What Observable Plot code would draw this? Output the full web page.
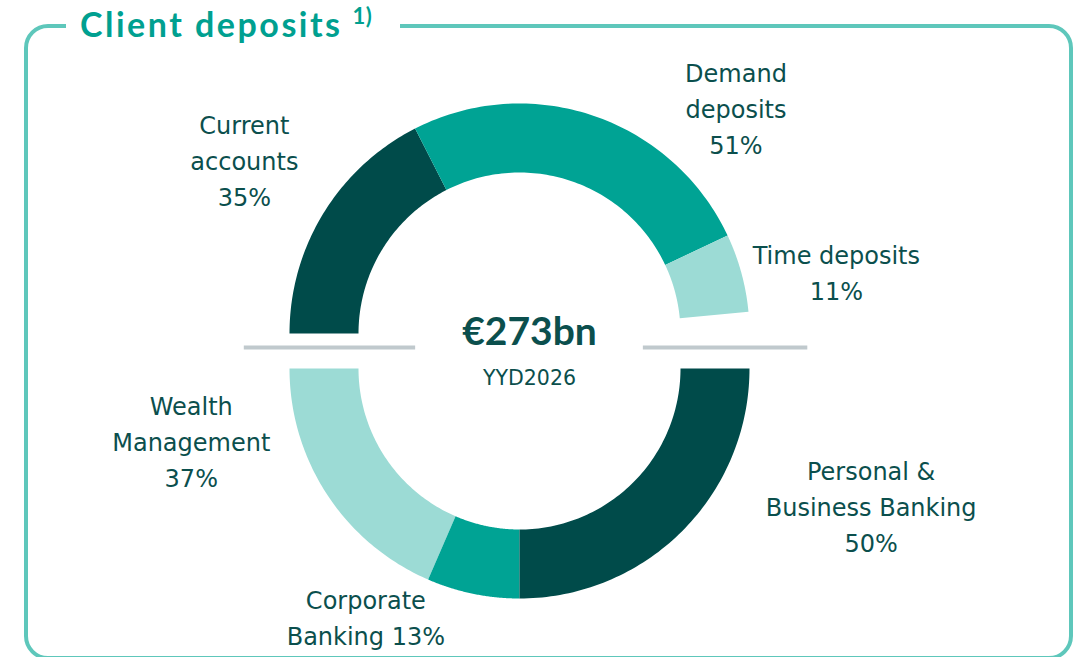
<!DOCTYPE html>
<html>
<head>
<meta charset="utf-8">
<script src="https://cdn.jsdelivr.net/npm/d3@7"></script>
<script src="https://cdn.jsdelivr.net/npm/@observablehq/plot@0.6"></script>
<style>
  html, body { margin: 0; padding: 0; background: #fff; }
  #wrap { position: relative; width: 1078px; height: 657px; overflow: hidden; font-family: Lato, "Open Sans", sans-serif; }
  #frame { position: absolute; left: 24px; top: 24px; width: 1049px; height: 636px; box-sizing: border-box;
           border: 4px solid #5ec7bb; border-radius: 24px; }
  #title { position: absolute; left: 66px; top: -8px; background: #fff; padding: 0 28px 0 14px;
           color: #00a090; font-weight: 700; font-size: 34px; letter-spacing: 2.5px; line-height: 50px; white-space: nowrap; }
  #title sup { font-size: 22px; font-weight: 700; letter-spacing: 0.5px; position: relative; top: -1px; margin-left: 10px; }
  #chart { position: absolute; left: 0; top: 0; }
</style>
</head>
<body>
<div id="wrap">
  <div id="chart"></div>
  <div id="frame"></div>
  <div id="title">Client deposits<sup>1)</sup></div>
</div>
<script>
// ---- data ----
const topCategories = ["Current accounts", "Demand deposits", "Time deposits"];
const topShares = [35, 51, 11];
const topLabels = ["Current\naccounts\n35%", "Demand\ndeposits\n51%", "Time deposits\n11%"];

const bottomCategories = ["Wealth Management", "Corporate Banking", "Personal & Business Banking"];
const bottomShares = [37, 13, 50];
const bottomLabels = ["Wealth\nManagement\n37%", "Corporate\nBanking 13%", "Personal &\nBusiness Banking\n50%"];

const totalLabel = "€273bn";
const periodLabel = "YYD2026";

// ---- layout / style ----
const W = 1078, H = 657;
const cxPx = 519, cyPx = 350.5, Rpx = 230;
const halfGap = 17.5 / Rpx;       // vertical offset of each half from the midline
const innerRatio = 0.70;
const colors = {
  "Current accounts": "#004b4a", "Demand deposits": "#00a394", "Time deposits": "#9cdbd5",
  "Wealth Management": "#9cdbd5", "Corporate Banking": "#00a394", "Personal & Business Banking": "#004b4a"
};
const nudges = {
  "Current accounts": [-79, -55], "Demand deposits": [142, -9], "Time deposits": [95, -2],
  "Wealth Management": [-136, -55], "Corporate Banking": [-107, 22], "Personal & Business Banking": [189, -27]
};
const textColor = "#0b4f4d";
const labelFont = "'DejaVu Sans', Verdana, sans-serif";

// build arc polygons from shares (each half spans 180 degrees)
function buildHalf(cats, shares, labels, dir, yOff) {
  const polys = [], labs = [];
  let cum = 0;
  cats.forEach((c, i) => {
    const a0 = Math.PI - dir * (cum / 100) * Math.PI;
    cum += shares[i];
    const a1 = Math.PI - dir * (cum / 100) * Math.PI;
    const n = 80;
    for (let k = 0; k <= n; k++) {
      const a = a0 + (a1 - a0) * k / n;
      polys.push({key: c, x: Math.cos(a), y: Math.sin(a) + yOff});
    }
    for (let k = n; k >= 0; k--) {
      const a = a0 + (a1 - a0) * k / n;
      polys.push({key: c, x: innerRatio * Math.cos(a), y: innerRatio * Math.sin(a) + yOff});
    }
    const am = (a0 + a1) / 2;
    labs.push({key: c, text: labels[i], x: Math.cos(am), y: Math.sin(am) + yOff});
  });
  return {polys, labs};
}
const topHalf = buildHalf(topCategories, topShares, topLabels, 1, halfGap);
const bottomHalf = buildHalf(bottomCategories, bottomShares, bottomLabels, -1, -halfGap);
const arcs = topHalf.polys.concat(bottomHalf.polys);
const labs = topHalf.labs.concat(bottomHalf.labs);

const xDomain = [(0 - cxPx) / Rpx, (W - cxPx) / Rpx];
const yDomain = [(cyPx - H) / Rpx, cyPx / Rpx];
const centerX = 10 / Rpx;

const allCats = topCategories.concat(bottomCategories);

const labelMarks = labs.map(d => Plot.text([d], {
  x: "x", y: "y", text: "text",
  dx: nudges[d.key][0], dy: nudges[d.key][1],
  fill: textColor, fontSize: 24, fontFamily: labelFont, lineHeight: 1.5, textAnchor: "middle"
}));

const rules = [
  {x1: centerX - 1.24, x2: centerX - 0.495},
  {x1: centerX + 0.495, x2: centerX + 1.21}
];

const chart = Plot.plot({
  width: W, height: H,
  margin: 0,
  x: {domain: xDomain, axis: null},
  y: {domain: yDomain, axis: null},
  color: {domain: allCats, range: allCats.map(c => colors[c])},
  style: {fontFamily: "Lato, 'Open Sans', sans-serif", background: "transparent"},
  marks: [
    Plot.line(arcs, {x: "x", y: "y", z: "key", fill: "key", stroke: "none"}),
    Plot.ruleY(rules, {y: 0, x1: "x1", x2: "x2", dy: -3.5, stroke: "#c0c9cd", strokeWidth: 4}),
    Plot.text([totalLabel], {x: centerX, y: 0, text: d => d, dy: -18, fill: textColor, fontSize: 39, fontWeight: 700}),
    Plot.text([periodLabel], {x: centerX, y: 0, text: d => d, dy: 27, fill: textColor, fontSize: 20.5, fontFamily: labelFont}),
    ...labelMarks
  ]
});
document.getElementById("chart").appendChild(chart);
</script>
</body>
</html>
